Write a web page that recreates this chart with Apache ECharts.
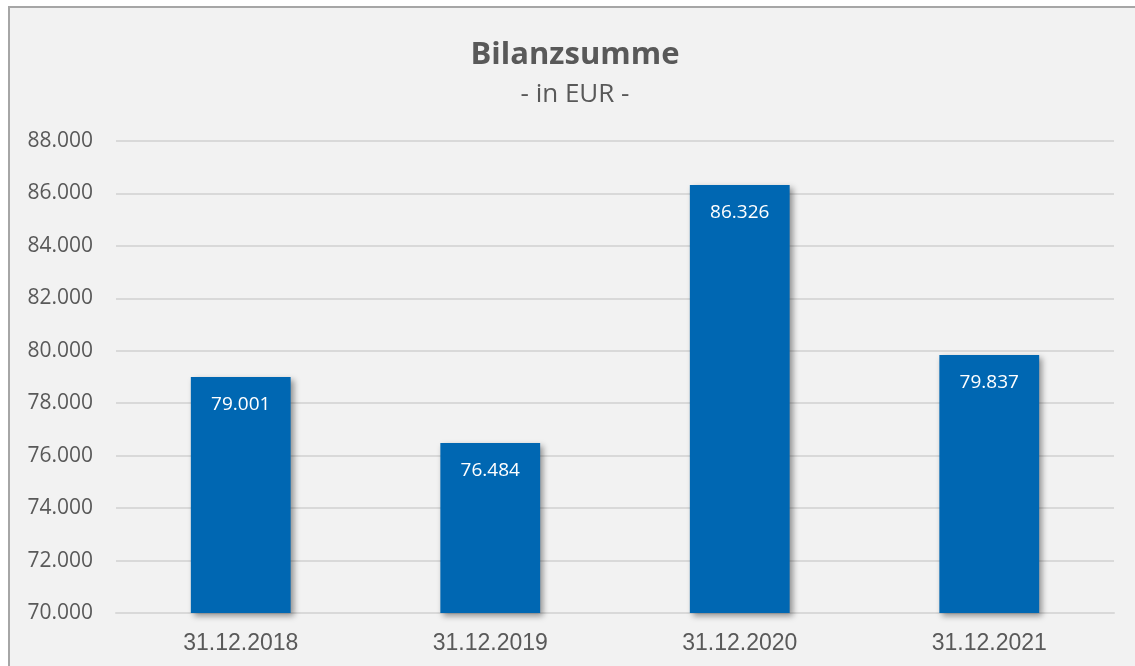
<!DOCTYPE html>
<html>
<head>
<meta charset="utf-8">
<script src="https://cdn.jsdelivr.net/npm/echarts@6/dist/echarts.min.js"></script>
<style>
  html, body { margin: 0; padding: 0; background: #fff; }
  #chart { width: 1135px; height: 666px; }
</style>
</head>
<body>
<div id="chart"></div>
<script>
const categories = ['31.12.2018', '31.12.2019', '31.12.2020', '31.12.2021']
const bilanzsumme = [79001, 76484, 86326, 79837]
const yTicks = { min: 70000, max: 88000, step: 2000 }

const fmt = v => String(v).replace(/\B(?=(\d{3})+(?!\d))/g, '.')

const myChart = echarts.init(document.getElementById('chart'))
myChart.setOption({
  animation: false,
  backgroundColor: '#ffffff',
  graphic: [
    {
      type: 'rect',
      z: -10,
      silent: true,
      shape: { x: 9, y: 7, width: 1140, height: 680 },
      style: { fill: '#f2f2f2', stroke: '#a6a6a6', lineWidth: 2 },
    },
  ],
  title: {
    text: 'Bilanzsumme',
    subtext: '- in EUR -',
    left: 570,
    textAlign: 'center',
    top: 35,
    itemGap: 11,
    textStyle: {
      fontFamily: 'Open Sans',
      fontWeight: 'bold',
      fontSize: 31,
      color: '#595959',
    },
    subtextStyle: {
      fontFamily: 'Open Sans',
      fontSize: 26,
      color: '#595959',
    },
  },
  grid: { left: 116, right: 21, top: 141, bottom: 53 },
  xAxis: {
    type: 'category',
    data: categories,
    axisTick: { show: false },
    axisLine: { lineStyle: { color: '#d9d9d9', width: 2 } },
    axisLabel: {
      fontFamily: 'Liberation Sans',
      fontSize: 23,
      color: '#595959',
      margin: 19,
    },
  },
  yAxis: {
    type: 'value',
    min: yTicks.min,
    max: yTicks.max,
    interval: yTicks.step,
    axisLine: { show: false },
    axisTick: { show: false },
    splitLine: { lineStyle: { color: '#d9d9d9', width: 2 } },
    axisLabel: {
      fontFamily: 'Open Sans',
      fontSize: 21,
      color: '#595959',
      margin: 23,
      formatter: fmt,
    },
  },
  series: [
    {
      type: 'bar',
      data: bilanzsumme,
      barWidth: '40%',
      itemStyle: {
        color: '#0067b2',
        shadowColor: 'rgba(0,0,0,0.4)',
        shadowBlur: 6,
        shadowOffsetX: 3,
        shadowOffsetY: 3,
      },
      label: {
        show: true,
        position: 'insideTop',
        distance: 18,
        fontFamily: 'Open Sans',
        fontSize: 19,
        color: '#ffffff',
        formatter: p => fmt(p.value),
      },
    },
  ],
})
</script>
</body>
</html>
